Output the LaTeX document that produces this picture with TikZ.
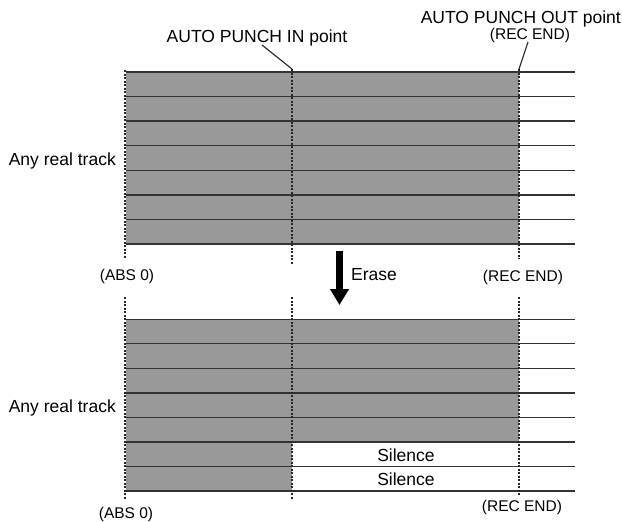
\documentclass[tikz,border=0pt]{standalone}
\usepackage{fontspec}
\setmainfont{Liberation Sans}
\usetikzlibrary{positioning, arrows.meta}

\begin{document}
\begin{tikzpicture}[
    x=1pt, y=-1pt,
    caption/.style={
        inner sep=0pt,
        font=\fontsize{17.5}{19}\selectfont
    },
    marker/.style={
        inner sep=0pt,
        font=\fontsize{15.5}{17}\selectfont
    },
    audio/.style={fill=black!40},
    track/.style={draw=black!80, line width=1.3pt},
    cue/.style={draw=black!85, line width=1.2pt, dash pattern=on 2pt off 1.5pt},
    pointer/.style={draw=black!85, line width=1.1pt},
    erase/.style={
        line width=7pt,
        -{Triangle[width=18pt, length=16pt]}
    }
]
    \useasboundingbox (0,0) rectangle (622,522);

    % Recorded audio ===========================
    \fill[audio] (126,72) rectangle (519,244);
    \fill[audio] (126,319.3) rectangle (519,443);
    \fill[audio] (126,443) rectangle (292,491);

    % Track lines ===========================
    \foreach \i in {0,...,7} {
        \draw[track] (126,72+24.57*\i) -- (575,72+24.57*\i);
        \draw[track] (126,319.3+24.53*\i) -- (575,319.3+24.53*\i);
    }

    % Cue points ===========================
    \coordinate (punchin) at (292,69);
    \coordinate (punchout) at (519,69);
    \draw[cue] (125,70) -- (125,259);
    \draw[cue] (punchin) -- (292,265);
    \draw[cue] (punchout) -- (519,259);
    \draw[cue] (125,297) -- (125,500);
    \draw[cue] (292,297) -- (292,500);
    \draw[cue] (519,297) -- (519,496);

    % Labels ===========================
    \node[caption, anchor=base] (inlabel) at (257,42) {AUTO PUNCH IN point};
    \node[caption, anchor=base east] (outlabel) at (621,23.5) {AUTO PUNCH OUT point};
    \node[marker, anchor=base] (outend) at (530,39) {(REC END)};
    \coordinate (inpointer) at (262,45);
    \coordinate (outpointer) at (528,42);
    \draw[pointer] (inpointer) -- (punchin);
    \draw[pointer] (outpointer) -- (punchout);

    \node[caption, anchor=base east] (tracka) at (116,165) {Any real track};
    \node[caption, anchor=base east] (trackb) at (116,412) {Any real track};

    \node[marker, anchor=base] (absa) at (127,280) {(ABS 0)};
    \node[marker, anchor=base] (enda) at (523,281) {(REC END)};
    \node[marker, anchor=base] (absb) at (126,518) {(ABS 0)};
    \node[marker, anchor=base] (endb) at (522,511) {(REC END)};

    \node[caption, anchor=base] (silencea) at (406,461) {Silence};
    \node[caption, anchor=base] (silenceb) at (406,485) {Silence};

    % Erase arrow ===========================
    \coordinate (erasetop) at (339.5,251);
    \coordinate (erasetip) at (339.5,305);
    \draw[erase] (erasetop) -- (erasetip);
    \node[caption, anchor=base west] (eraselabel) at (351,280) {Erase};

\end{tikzpicture}
\end{document}
